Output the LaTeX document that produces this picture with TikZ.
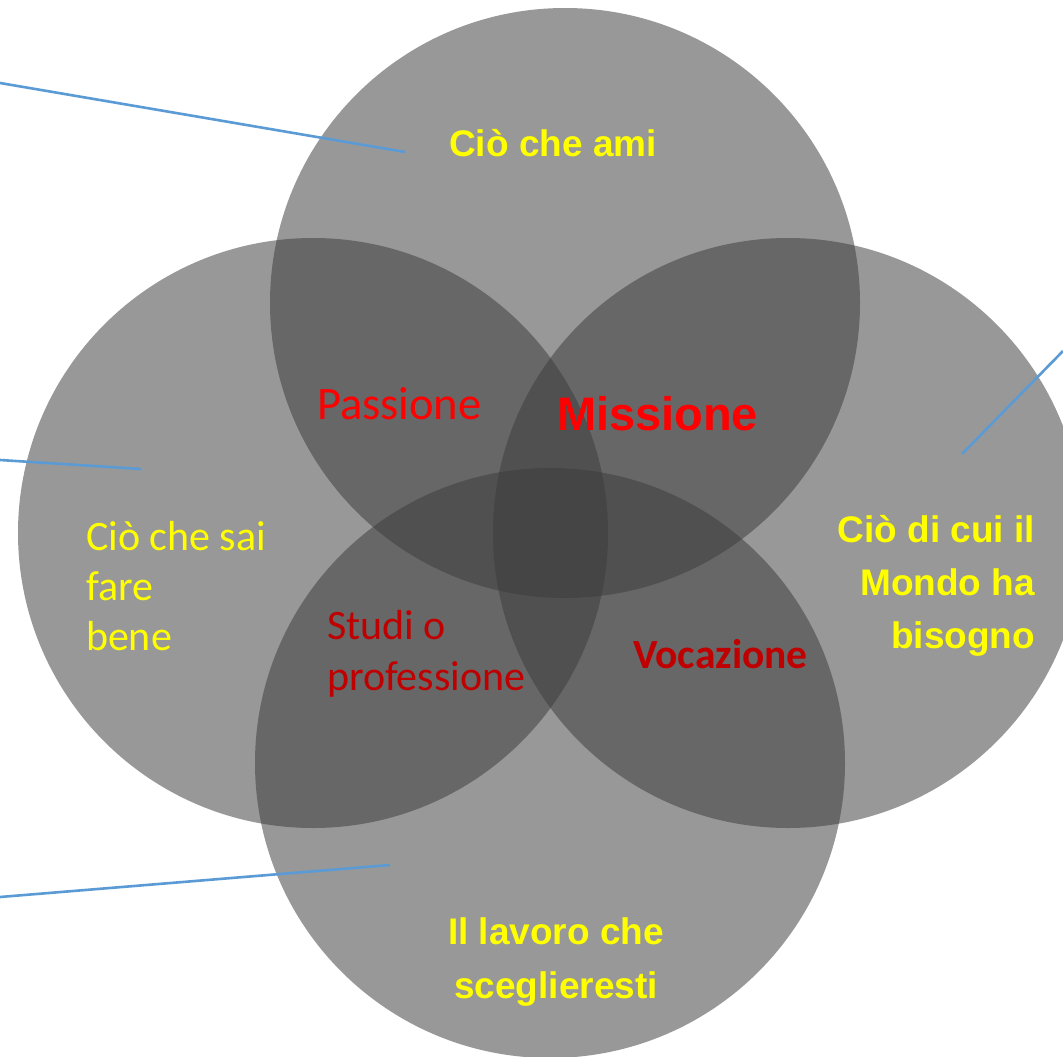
\documentclass[tikz,border=0pt]{standalone}
\usepackage{fontspec}
\setmainfont{Liberation Sans}
\newfontfamily\carlito{Carlito}
\definecolor{ringgray}{RGB}{59,59,59}
\definecolor{linkblue}{RGB}{91,155,213}
\definecolor{txtyellow}{RGB}{255,255,0}
\definecolor{txtred}{RGB}{255,0,0}
\definecolor{txtdark}{RGB}{192,0,0}
\begin{document}
\begin{tikzpicture}[x=1pt,y=-1pt,
  ring/.style={circle, minimum size=590pt, inner sep=0pt, outer sep=0pt, fill=ringgray, fill opacity=0.52, draw=none},
  link/.style={draw=linkblue, line width=2.6pt},
  lab/.style={inner sep=0pt, outer sep=0pt}]
\useasboundingbox (0,0) rectangle (1063,1057);
\clip (0,0) rectangle (1063,1057);
\fill[white] (0,0) rectangle (1063,1057);
% circles
\node[ring] (ami) at (565,303) {};
\node[ring] (sai) at (313,533) {};
\node[ring] (mondo) at (788,533) {};
\node[ring] (lavoro) at (550,763) {};
% connector lines
\coordinate (l1a) at (0,83);    \coordinate (l1b) at (405,152);
\coordinate (l2a) at (0,460);   \coordinate (l2b) at (141,469);
\coordinate (l3a) at (1063,351); \coordinate (l3b) at (962,454);
\coordinate (l4a) at (0,897);   \coordinate (l4b) at (390,865);
\draw[link] (l1a) -- (l1b);
\draw[link] (l2a) -- (l2b);
\draw[link] (l3a) -- (l3b);
\draw[link] (l4a) -- (l4b);
% texts
\node[lab, anchor=base, text=txtyellow, font=\bfseries\fontsize{37}{44}\selectfont] (tami) at (553,156) {Ciò che ami};
\node[lab, anchor=base west, text=txtred, font=\bfseries\fontsize{47}{56}\selectfont] (tmis) at (557,430) {Missione};
\node[lab, anchor=base west, text=txtred, font=\carlito\fontsize{46.5}{56}\selectfont] (tpas) at (317,419) {Passione};
\node[lab, anchor=base west, text=txtyellow, font=\carlito\fontsize{42}{50}\selectfont] (tsai) at (86,550) {\vtop{\hbox{Ciò che sai}\hbox{fare}\hbox{bene}}};
\node[lab, anchor=base east, text=txtyellow, font=\bfseries\fontsize{37}{53}\selectfont] (tmon) at (1035,542) {\vtop{\halign{\hfil#\cr Ciò di cui il\cr Mondo ha\cr bisogno\cr}}};
\node[lab, anchor=base west, text=txtdark, font=\carlito\fontsize{42}{51}\selectfont] (tstu) at (327,639) {\vtop{\hbox{Studi o}\hbox{professione}}};
\node[lab, anchor=base west, text=txtdark, font=\carlito\bfseries\fontsize{41.5}{50}\selectfont] (tvoc) at (633,668) {Vocazione};
\node[lab, anchor=base, text=txtyellow, font=\bfseries\fontsize{37}{54}\selectfont] (tlav) at (556,944) {\vtop{\halign{\hfil#\hfil\cr Il lavoro che\cr sceglieresti\cr}}};
\end{tikzpicture}
\end{document}
